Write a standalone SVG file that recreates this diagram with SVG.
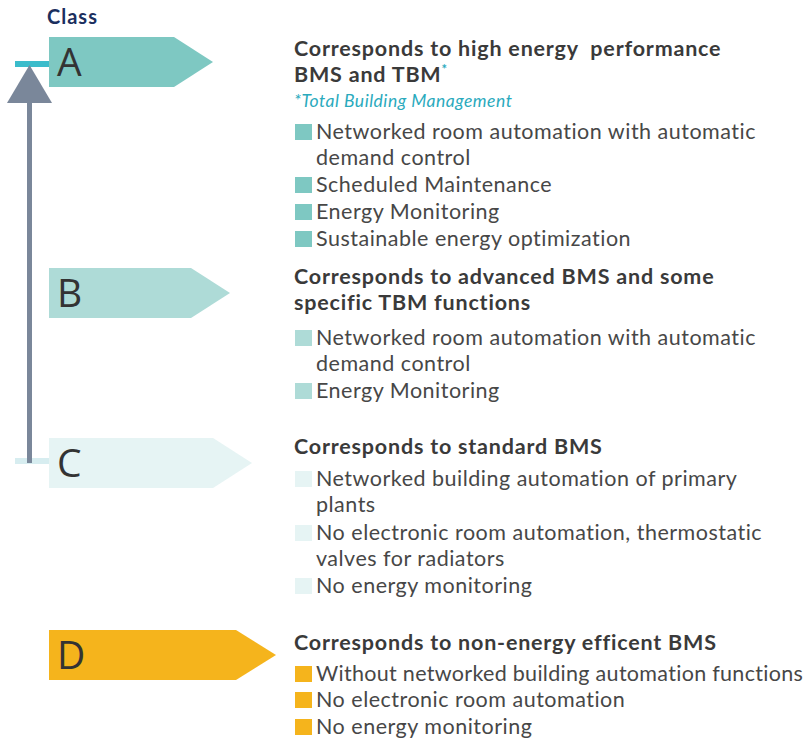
<svg xmlns="http://www.w3.org/2000/svg" width="810" height="742" viewBox="0 0 810 742">
  <style>
    text { font-family: Lato, "Open Sans", sans-serif; white-space: pre; }
    .title { font-weight: 700; font-size: 20px; letter-spacing: 1px; fill: #1b2f5e; }
    .grade { font-family: "Open Sans", Lato, sans-serif; font-weight: 400; font-size: 39px; fill: #333333; }
    .head { font-weight: 700; font-size: 21.5px; letter-spacing: 0.8px; fill: #3a3a3a; }
    .item { font-weight: 400; font-size: 21.5px; letter-spacing: 0.5px; fill: #474747; }
    .note { font-style: italic; font-size: 17.5px; letter-spacing: 0.5px; fill: #2aaabd; }
    .cA { fill: #7ec8c2; }
    .cB { fill: #aedbd7; }
    .cC { fill: #e6f4f4; }
    .cD { fill: #f5b41c; }
  </style>

  <rect width="810" height="742" fill="#ffffff"/>

  <text class="title" x="47" y="24">Class</text>

  <!-- scale axis -->
  <g id="connectors">
    <rect x="15" y="61" width="34" height="6" fill="#3bbccb"/>
    <rect x="15" y="458" width="34" height="6" fill="#d7edf0"/>
    <rect x="27" y="100" width="5" height="363" fill="#7a879a"/>
    <polygon points="29.5,65 7,103 52,103" fill="#7a879a"/>
  </g>

  <!-- class A -->
  <g id="classA">
    <polygon class="cA" points="49,37 174,37 213,62 174,87 49,87"/>
    <text class="grade" x="57" y="76">A</text>
    <text class="head"><tspan x="294" y="56">Corresponds to high energy  performance</tspan><tspan x="294" y="82">BMS and TBM</tspan><tspan fill="#2aaabd" dy="-8" font-size="13">*</tspan></text>
    <text class="note" x="294" y="107">*Total Building Management</text>
    <rect class="cA" x="295" y="124" width="17" height="16"/>
    <rect class="cA" x="295" y="177" width="17" height="16"/>
    <rect class="cA" x="295" y="204" width="17" height="16"/>
    <rect class="cA" x="295" y="231" width="17" height="16"/>
    <text class="item"><tspan x="316" y="139">Networked room automation with automatic</tspan><tspan x="316" y="165">demand control</tspan><tspan x="316" y="192">Scheduled Maintenance</tspan><tspan x="316" y="219">Energy Monitoring</tspan><tspan x="316" y="246">Sustainable energy optimization</tspan></text>
  </g>

  <!-- class B -->
  <g id="classB">
    <polygon class="cB" points="49,268 191,268 230,293 191,318 49,318"/>
    <text class="grade" x="57" y="307">B</text>
    <text class="head"><tspan x="294" y="284">Corresponds to advanced BMS and some</tspan><tspan x="294" y="310">specific TBM functions</tspan></text>
    <rect class="cB" x="295" y="330" width="17" height="16"/>
    <rect class="cB" x="295" y="383" width="17" height="16"/>
    <text class="item"><tspan x="316" y="345">Networked room automation with automatic</tspan><tspan x="316" y="371">demand control</tspan><tspan x="316" y="398">Energy Monitoring</tspan></text>
  </g>

  <!-- class C -->
  <g id="classC">
    <polygon class="cC" points="49,438 213,438 252,463 213,488 49,488"/>
    <text class="grade" x="57" y="477">C</text>
    <text class="head" x="294" y="454">Corresponds to standard BMS</text>
    <rect class="cC" x="295" y="471" width="17" height="16"/>
    <rect class="cC" x="295" y="525" width="17" height="16"/>
    <rect class="cC" x="295" y="578" width="17" height="16"/>
    <text class="item"><tspan x="316" y="486">Networked building automation of primary</tspan><tspan x="316" y="512">plants</tspan><tspan x="316" y="540">No electronic room automation, thermostatic</tspan><tspan x="316" y="566">valves for radiators</tspan><tspan x="316" y="593">No energy monitoring</tspan></text>
  </g>

  <!-- class D -->
  <g id="classD">
    <polygon class="cD" points="49,630 236,630 276,655 236,680 49,680"/>
    <text class="grade" x="57" y="669">D</text>
    <text class="head" x="294" y="650">Corresponds to non-energy efficent BMS</text>
    <rect class="cD" x="295" y="666" width="17" height="16"/>
    <rect class="cD" x="295" y="692" width="17" height="16"/>
    <rect class="cD" x="295" y="719" width="17" height="16"/>
    <text class="item"><tspan x="316" y="681" letter-spacing="0.3px">Without networked building automation functions</tspan><tspan x="316" y="707">No electronic room automation</tspan><tspan x="316" y="734">No energy monitoring</tspan></text>
  </g>
</svg>
